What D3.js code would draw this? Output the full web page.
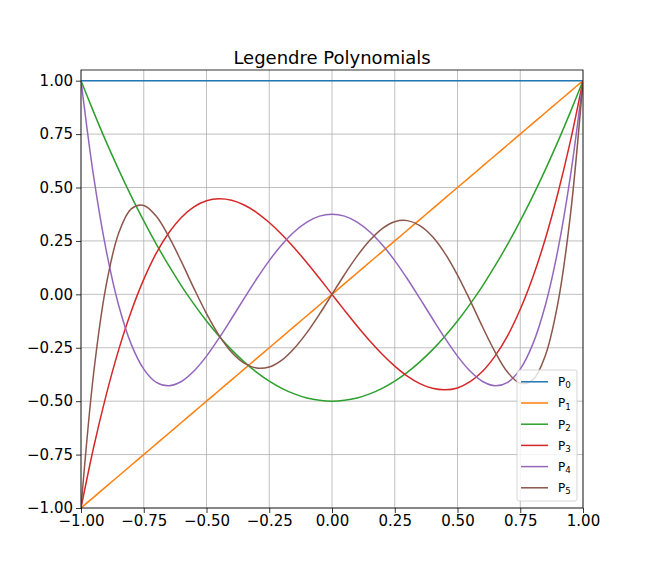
<!DOCTYPE html>
<html>
<head>
<meta charset="utf-8">
<script src="https://cdn.jsdelivr.net/npm/d3@7"></script>
<style>
  body { margin: 0; background: #fff; }
  svg { font-family: "DejaVu Sans", sans-serif; }
</style>
</head>
<body>
<div id="chart"></div>
<script>
// sample positions along x (every 0.05)
const xValues = [-1, -0.95, -0.9, -0.85, -0.8, -0.75, -0.7, -0.65, -0.6, -0.55, -0.5,
  -0.45, -0.4, -0.35, -0.3, -0.25, -0.2, -0.15, -0.1, -0.05, 0,
  0.05, 0.1, 0.15, 0.2, 0.25, 0.3, 0.35, 0.4, 0.45, 0.5,
  0.55, 0.6, 0.65, 0.7, 0.75, 0.8, 0.85, 0.9, 0.95, 1];

const p0 = [1, 1, 1, 1, 1, 1, 1, 1, 1, 1, 1, 1, 1, 1, 1, 1, 1, 1, 1, 1, 1,
  1, 1, 1, 1, 1, 1, 1, 1, 1, 1, 1, 1, 1, 1, 1, 1, 1, 1, 1, 1];
const p1 = [-1, -0.95, -0.9, -0.85, -0.8, -0.75, -0.7, -0.65, -0.6, -0.55, -0.5,
  -0.45, -0.4, -0.35, -0.3, -0.25, -0.2, -0.15, -0.1, -0.05, 0,
  0.05, 0.1, 0.15, 0.2, 0.25, 0.3, 0.35, 0.4, 0.45, 0.5,
  0.55, 0.6, 0.65, 0.7, 0.75, 0.8, 0.85, 0.9, 0.95, 1];
const p2 = [1, 0.854, 0.715, 0.584, 0.46, 0.344, 0.235, 0.134, 0.04, -0.046, -0.125,
  -0.196, -0.26, -0.316, -0.365, -0.406, -0.44, -0.466, -0.485, -0.496, -0.5,
  -0.496, -0.485, -0.466, -0.44, -0.406, -0.365, -0.316, -0.26, -0.196, -0.125,
  -0.046, 0.04, 0.134, 0.235, 0.344, 0.46, 0.584, 0.715, 0.854, 1];
const p3 = [-1, -0.718, -0.473, -0.26, -0.08, 0.07, 0.193, 0.288, 0.36, 0.409, 0.438,
  0.447, 0.44, 0.418, 0.383, 0.336, 0.28, 0.217, 0.148, 0.075, 0,
  -0.075, -0.148, -0.217, -0.28, -0.336, -0.383, -0.418, -0.44, -0.447, -0.438,
  -0.409, -0.36, -0.288, -0.193, -0.07, 0.08, 0.26, 0.473, 0.718, 1];
const p4 = [1, 0.554, 0.208, -0.051, -0.233, -0.35, -0.412, -0.428, -0.408, -0.359, -0.289,
  -0.205, -0.113, -0.019, 0.073, 0.158, 0.232, 0.293, 0.338, 0.366, 0.375,
  0.366, 0.338, 0.293, 0.232, 0.158, 0.073, -0.019, -0.113, -0.205, -0.289,
  -0.359, -0.408, -0.428, -0.412, -0.35, -0.233, -0.051, 0.208, 0.554, 1];
const p5 = [-1, -0.373, 0.041, 0.286, 0.4, 0.416, 0.365, 0.27, 0.153, 0.028, -0.09,
  -0.192, -0.271, -0.322, -0.345, -0.34, -0.308, -0.252, -0.179, -0.093, 0,
  0.093, 0.179, 0.252, 0.308, 0.34, 0.345, 0.322, 0.271, 0.192, 0.09,
  -0.028, -0.153, -0.27, -0.365, -0.416, -0.4, -0.286, -0.041, 0.373, 1];

const seriesNames = ["0", "1", "2", "3", "4", "5"];
const seriesValues = [p0, p1, p2, p3, p4, p5];
const colors = ["#1f77b4", "#ff7f0e", "#2ca02c", "#d62728", "#9467bd", "#8c564b"];

const xTicks = [-1, -0.75, -0.5, -0.25, 0, 0.25, 0.5, 0.75, 1];
const yTicks = [-1, -0.75, -0.5, -0.25, 0, 0.25, 0.5, 0.75, 1];

// layout
const width = 648, height = 580;
const plotLeft = 81, plotRight = 583, plotTop = 70, plotBottom = 508;

const svg = d3.select("#chart").append("svg")
  .attr("width", width)
  .attr("height", height);

const x = d3.scaleLinear().domain([-1, 1]).range([plotLeft, plotRight]);
const y = d3.scaleLinear().domain([-1, 1.05]).range([plotBottom, plotTop]);
const fmt = d3.format(".2f");

// grille
svg.append("g").selectAll("line").data(xTicks).join("line")
  .attr("x1", d => x(d)).attr("x2", d => x(d))
  .attr("y1", plotTop).attr("y2", plotBottom)
  .attr("stroke", "#b0b0b0").attr("stroke-width", 0.8);
svg.append("g").selectAll("line").data(yTicks).join("line")
  .attr("x1", plotLeft).attr("x2", plotRight)
  .attr("y1", d => y(d)).attr("y2", d => y(d))
  .attr("stroke", "#b0b0b0").attr("stroke-width", 0.8);

// courbes
const line = d3.line()
  .x(d => x(d[0]))
  .y(d => y(d[1]))
  .curve(d3.curveCatmullRom.alpha(0.5));

svg.append("clipPath").attr("id", "clip")
  .append("rect").attr("x", plotLeft).attr("y", plotTop)
  .attr("width", plotRight - plotLeft).attr("height", plotBottom - plotTop);

svg.append("g").attr("clip-path", "url(#clip)")
  .selectAll("path").data(seriesValues).join("path")
  .attr("d", vals => line(vals.map((v, i) => [xValues[i], v])))
  .attr("fill", "none")
  .attr("stroke", (d, i) => colors[i])
  .attr("stroke-width", 1.5)
  .attr("stroke-linejoin", "round")
  .attr("stroke-linecap", "butt");

// axes
const xAxis = svg.append("g")
  .attr("transform", `translate(0,${plotBottom})`)
  .call(d3.axisBottom(x).tickValues(xTicks).tickFormat(fmt).tickSizeOuter(0).tickSize(5).tickPadding(2.5));
const yAxis = svg.append("g")
  .attr("transform", `translate(${plotLeft},0)`)
  .call(d3.axisLeft(y).tickValues(yTicks).tickFormat(fmt).tickSizeOuter(0).tickSize(5).tickPadding(3));

[xAxis, yAxis].forEach(g => {
  g.select(".domain").remove();
  g.selectAll(".tick line").attr("stroke", "#000").attr("stroke-width", 0.8);
  g.selectAll(".tick text")
    .attr("fill", "#000")
    .style("font-family", "DejaVu Sans")
    .style("font-size", "15px");
});

// cadre
svg.append("rect")
  .attr("x", plotLeft).attr("y", plotTop)
  .attr("width", plotRight - plotLeft).attr("height", plotBottom - plotTop)
  .attr("fill", "none").attr("stroke", "#000").attr("stroke-width", 0.8);

// titre
svg.append("text")
  .attr("x", (plotLeft + plotRight) / 2).attr("y", 64)
  .attr("text-anchor", "middle")
  .style("font-size", "18px")
  .text("Legendre Polynomials");

// légende
const legend = svg.append("g");
legend.append("rect")
  .attr("x", 517).attr("y", 370)
  .attr("width", 60).attr("height", 131)
  .attr("rx", 2.5)
  .attr("fill", "#fff").attr("fill-opacity", 0.8)
  .attr("stroke", "#cccccc").attr("stroke-width", 0.8);

const rows = legend.selectAll("g.row").data(seriesNames).join("g")
  .attr("class", "row")
  .attr("transform", (d, i) => `translate(0,${381.8 + i * 21.2})`);

rows.append("line")
  .attr("x1", 521).attr("x2", 548)
  .attr("stroke", (d, i) => colors[i])
  .attr("stroke-width", 1.5);

const label = rows.append("text")
  .attr("x", 558).attr("y", 4.3)
  .style("font-size", "12px");
label.append("tspan").text("P");
label.append("tspan")
  .attr("dy", 2.3)
  .style("font-size", "8.7px")
  .text(d => d);
</script>
</body>
</html>
